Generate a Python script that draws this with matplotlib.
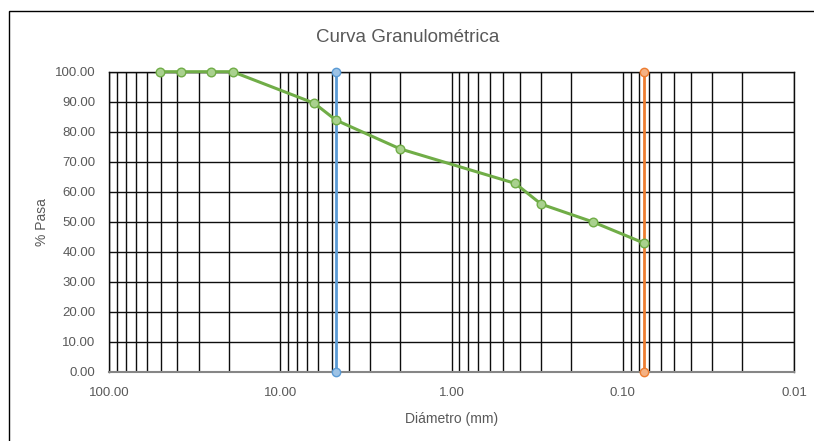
import matplotlib.pyplot as plt
import matplotlib.ticker as mticker
from matplotlib.patches import Rectangle

plt.rcParams['font.family'] = ['Liberation Sans Narrow', 'Liberation Sans', 'DejaVu Sans']

# sieve openings (mm) and % passing
diametro = [50.8, 38.1, 25.4, 19.05, 6.35, 4.75, 2.0, 0.425, 0.3, 0.15, 0.075]
pasa = [100.0, 100.0, 100.0, 100.0, 89.5, 83.9, 74.3, 62.8, 55.9, 50.0, 42.9]

# reference lines (#4 and #200 sieves)
linea_n4_x = [4.75, 4.75]
linea_n4_y = [0.0, 100.0]
linea_n200_x = [0.075, 0.075]
linea_n200_y = [0.0, 100.0]

gris = '#595959'

fig = plt.figure(figsize=(8.14, 4.41), dpi=100)
fig.patches.append(Rectangle((9 / 814, -0.05), 1.1, 1.05 - 11 / 441,
                             transform=fig.transFigure, fill=False,
                             edgecolor='black', linewidth=1.0))
ax = fig.add_axes([109.3 / 814, (441 - 372) / 441, (794 - 109.3) / 814, (372 - 71.7) / 441])

ax.set_xscale('log')
ax.set_xlim(100, 0.01)
ax.set_ylim(0, 100)

ax.xaxis.set_major_locator(mticker.LogLocator(base=10))
ax.xaxis.set_minor_locator(mticker.LogLocator(base=10, subs=range(2, 10)))
ax.xaxis.set_major_formatter(mticker.FuncFormatter(lambda v, p: f'{v:.2f}'))
ax.xaxis.set_minor_formatter(mticker.NullFormatter())
ax.yaxis.set_major_locator(mticker.MultipleLocator(10))
ax.yaxis.set_major_formatter(mticker.FuncFormatter(lambda v, p: f'{v:.2f}'))

ax.grid(True, which='both', axis='x', color='#0d0d0d', linewidth=1.0)
ax.grid(True, which='major', axis='y', color='#0d0d0d', linewidth=1.0)
ax.set_axisbelow(True)

ax.tick_params(axis='both', which='both', length=0, labelsize=9.5, colors=gris)
ax.tick_params(axis='y', pad=10)
ax.tick_params(axis='x', pad=11)

for s in ['top', 'left', 'right']:
    ax.spines[s].set_color('#0d0d0d')
    ax.spines[s].set_linewidth(1.0)
ax.spines['bottom'].set_color('#868686')
ax.spines['bottom'].set_linewidth(1.5)

ax.plot(linea_n4_x, linea_n4_y, color='#5B9BD5', linewidth=2.0, marker='o',
        markersize=6, markerfacecolor='#9DC3E6', markeredgecolor='#5B9BD5',
        clip_on=False, zorder=3)
ax.plot(linea_n200_x, linea_n200_y, color='#ED7D31', linewidth=2.0, marker='o',
        markersize=6, markerfacecolor='#F4B183', markeredgecolor='#ED7D31',
        clip_on=False, zorder=3)
ax.plot(diametro, pasa, color='#70AD47', linewidth=2.2, marker='o',
        markersize=6.2, markerfacecolor='#A9D18E', markeredgecolor='#70AD47',
        clip_on=False, zorder=4)

fig.text(408 / 814, 1 - 38 / 441, 'Curva Granulométrica', fontsize=13.5,
         color=gris, ha='center', va='center')
ax.set_xlabel('Diámetro (mm)', fontsize=10, color=gris, labelpad=9)
ax.set_ylabel('% Pasa', fontsize=10, color=gris, labelpad=4)

fig.savefig('out.png', dpi=100)
